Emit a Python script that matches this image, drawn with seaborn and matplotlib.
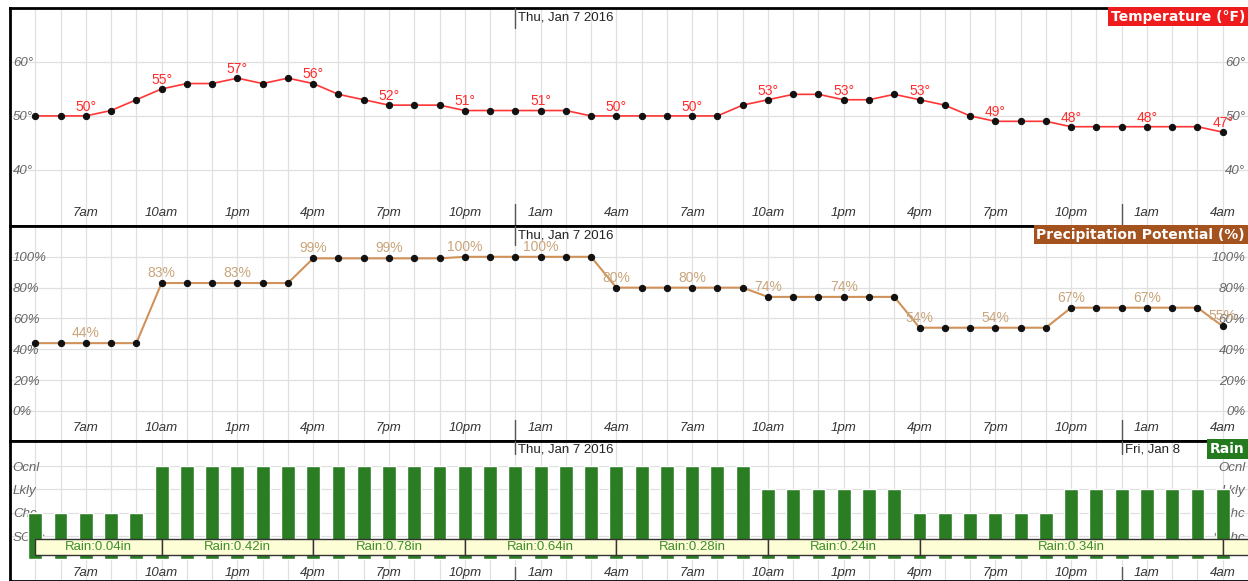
import numpy as np
import pandas as pd
import matplotlib
matplotlib.use("Agg")
import matplotlib.pyplot as plt
import matplotlib.transforms as mtrans
from matplotlib.patches import Rectangle
import seaborn as sns

# hourly forecast, 5am Wed Jan 6 -> 4am Fri Jan 8
temps = [50, 50, 50, 51, 53, 55, 56, 56, 57, 56, 57, 56, 54, 53, 52, 52,
         52, 51, 51, 51, 51, 51, 50, 50, 50, 50, 50, 50, 52, 53, 54, 54,
         53, 53, 54, 53, 52, 50, 49, 49, 49, 48, 48, 48, 48, 48, 48, 47]
precip = [44, 44, 44, 44, 44, 83, 83, 83, 83, 83, 83, 99, 99, 99, 99, 99,
          99, 100, 100, 100, 100, 100, 100, 80, 80, 80, 80, 80, 80, 74, 74, 74,
          74, 74, 74, 54, 54, 54, 54, 54, 54, 67, 67, 67, 67, 67, 67, 55]
rain_chance = ["Chc", "Chc", "Chc", "Chc", "Chc",
               "Ocnl", "Ocnl", "Ocnl", "Ocnl", "Ocnl", "Ocnl", "Ocnl", "Ocnl",
               "Ocnl", "Ocnl", "Ocnl", "Ocnl", "Ocnl", "Ocnl", "Ocnl", "Ocnl",
               "Ocnl", "Ocnl", "Ocnl", "Ocnl", "Ocnl", "Ocnl", "Ocnl", "Ocnl",
               "Lkly", "Lkly", "Lkly", "Lkly", "Lkly", "Lkly",
               "Chc", "Chc", "Chc", "Chc", "Chc", "Chc",
               "Lkly", "Lkly", "Lkly", "Lkly", "Lkly", "Lkly", "Lkly"]
level_names = ["SChc", "Chc", "Lkly", "Ocnl"]

tick_hours = [2, 5, 8, 11, 14, 17, 20, 23, 26, 29, 32, 35, 38, 41, 44, 47]
tick_labels = ["7am", "10am", "1pm", "4pm", "7pm", "10pm", "1am", "4am",
               "7am", "10am", "1pm", "4pm", "7pm", "10pm", "1am", "4am"]
midnights = [19, 43]
day_labels = ["Thu, Jan 7 2016", "Fri, Jan 8"]

rain_totals = ["Rain:0.04in", "Rain:0.42in", "Rain:0.78in", "Rain:0.64in",
               "Rain:0.28in", "Rain:0.24in", "Rain:0.34in", ""]
rain_edges = [0, 5, 11, 17, 23, 29, 35, 47, 49]

hours = np.arange(len(temps))
df = pd.DataFrame({"hour": hours, "temp": temps, "precip": precip,
                   "rain": [level_names.index(r) + 1 for r in rain_chance]})

sns.set_theme(style="white")
plt.rcParams["font.family"] = ["Liberation Sans", "DejaVu Sans"]

W, H = 1248, 581
fig = plt.figure(figsize=(W / 100, H / 100), dpi=100)
fig.patch.set_facecolor("white")


def px_axes(top, bottom):
    return fig.add_axes([10 / W, 1 - bottom / H, (W - 10) / W, (bottom - top) / H])


def style(ax, ylim, yticks, ylabels, title, title_bg, xpad, n_days):
    ax.set_xlabel("")
    ax.set_ylabel("")
    ax.set_xlim(-1, 48)
    ax.set_ylim(*ylim)
    ax.set_xticks(tick_hours, tick_labels)
    ax.set_xticks(hours, minor=True)
    ax.set_yticks(yticks, ylabels)
    ax.set_axisbelow(True)
    ax.grid(True, which="both", axis="x", color="#e0e0e0", lw=0.9)
    ax.grid(True, which="major", axis="y", color="#e0e0e0", lw=0.9)
    ax.tick_params(axis="x", which="both", length=0, pad=xpad,
                   labelsize=9.5, labelcolor="#333333")
    ax.tick_params(axis="y", length=0, pad=-2, labelleft=True, labelright=True,
                   labelsize=9.5, labelcolor="#666666")
    for lab in ax.get_xticklabels():
        lab.set_fontstyle("italic")
    for t in ax.yaxis.get_major_ticks():
        t.label1.set_ha("left")
        t.label2.set_ha("right")
        t.label1.set_fontstyle("italic")
        t.label2.set_fontstyle("italic")
    for s in ["left", "top", "bottom"]:
        ax.spines[s].set_color("black")
        ax.spines[s].set_linewidth(2)
    ax.spines["right"].set_visible(False)
    ax.set_facecolor("white")

    trans = mtrans.blended_transform_factory(ax.transData, ax.transAxes)
    for m in midnights:
        ax.plot([m, m], [0.0, 0.1], color="#555555", lw=1, transform=trans, zorder=5)
    for m, lab in list(zip(midnights, day_labels))[:n_days]:
        ax.plot([m, m], [0.91, 1.0], color="#555555", lw=1, transform=trans, zorder=5)
        ax.text(m + 0.12, 0.985, lab, transform=trans, ha="left", va="top",
                fontsize=9.5, color="#222222", zorder=6)
    ax.text(0.9975, 0.993, title, transform=ax.transAxes, ha="right", va="top",
            color="white", fontsize=10, fontweight="bold", family="DejaVu Sans",
            bbox=dict(boxstyle="square,pad=0.2", fc=title_bg, ec="none"), zorder=10)


# temperature
ax_t = px_axes(8, 226)
sns.lineplot(data=df, x="hour", y="temp", ax=ax_t, color="#ff3535", lw=1.2,
             marker="o", markersize=4.5, markerfacecolor="#111111",
             markeredgecolor="#111111", zorder=3)
for h in tick_hours:
    ax_t.text(h, temps[h] + 1.7, f"{temps[h]}°", ha="center", va="center",
              fontsize=10, color="#ff2a2a", zorder=4)
style(ax_t, (29.6, 70), [40, 50, 60], ["40°", "50°", "60°"],
      "Temperature (°F)", "#ee1c1c", -14, 1)

# precipitation potential
ax_p = px_axes(226, 441)
sns.lineplot(data=df, x="hour", y="precip", ax=ax_p, color="#d0925a", lw=1.5,
             marker="o", markersize=4.5, markerfacecolor="#111111",
             markeredgecolor="#111111", zorder=3)
for h in tick_hours:
    ax_p.text(h, precip[h] + 6.5, f"{precip[h]}%", ha="center", va="center",
              fontsize=10, color="#c9a57a", zorder=4)
style(ax_p, (-19.5, 120), [0, 20, 40, 60, 80, 100],
      ["0%", "20%", "40%", "60%", "80%", "100%"],
      "Precipitation Potential (%)", "#a4521e", -14, 1)

# rain chance
ax_r = px_axes(441, 581)
sns.barplot(data=df, x="hour", y="rain", ax=ax_r, native_scale=True, width=0.55,
            color="#2a7d22", saturation=1, errorbar=None, zorder=2)
for lab, a, b in zip(rain_totals, rain_edges[:-1], rain_edges[1:]):
    ax_r.add_patch(Rectangle((a, 0.18), b - a, 0.69, fc="#fdfdd6", ec="#333333",
                             lw=1, zorder=3))
    ax_r.text((a + b) / 2, 0.52, lab, ha="center", va="center", fontsize=9.5,
              color="#3e8c2a", zorder=4)
style(ax_r, (-0.93, 5.08), [1, 2, 3, 4], level_names, "Rain", "#237a1f", -10, 2)

fig.savefig("out.png", dpi=100)
